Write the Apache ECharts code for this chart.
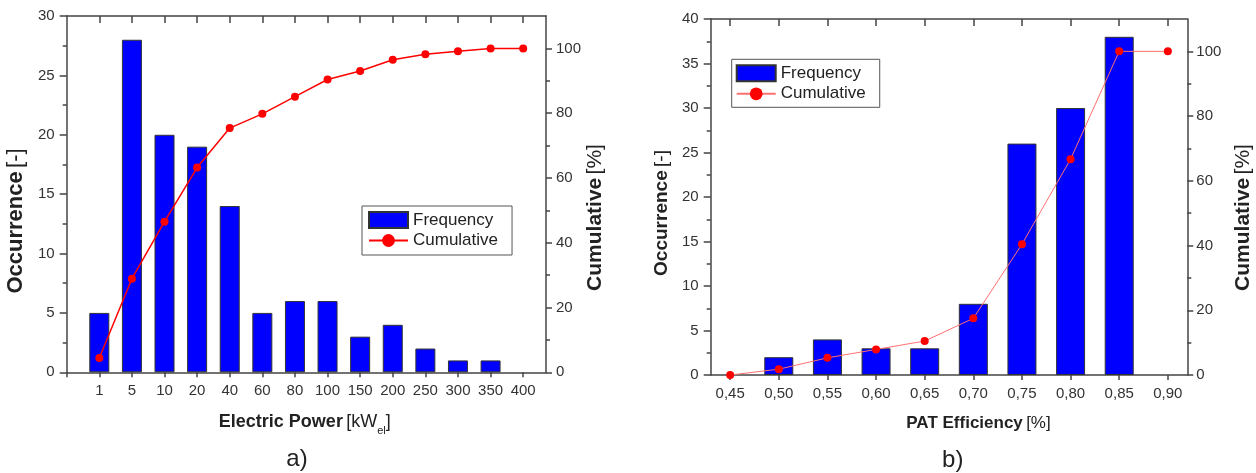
<!DOCTYPE html>
<html>
<head>
<meta charset="utf-8">
<script src="https://cdn.jsdelivr.net/npm/echarts@6/dist/echarts.min.js"></script>
<style>html,body{margin:0;padding:0;background:#fff}#c{width:1256px;height:473px}</style>
</head>
<body>
<div id="c"></div>
<script>
// ---- data (chart a) ----
const catA = ['1','5','10','20','40','60','80','100','150','200','250','300','350','400'];
const freqA = [5,28,20,19,14,5,6,6,3,4,2,1,1,0];
const cumA = [4.4,28.9,46.5,63.2,75.4,79.8,85.1,90.4,93.0,96.5,98.2,99.1,100,100];
// ---- data (chart b) ----
const catB = ['0,45','0,50','0,55','0,60','0,65','0,70','0,75','0,80','0,85','0,90'];
const freqB = [0,2,4,3,3,8,26,30,38,0];
const cumB = [0,1.8,5.3,7.9,10.5,17.5,40.4,66.7,100,100];
// ---- tick labels ----
const cumTicks = [0,20,40,60,80,100];
const cumMinor = [10,30,50,70,90];

const FONT = "'Liberation Sans', Arial, sans-serif";
const AX = '#444';
const TXT = '#333';
const lineSt = {color: AX, width: 1.5};

const idxA = catA.map((c,i)=>i+1);
const idxB = catB.map((c,i)=>i);

function xAxes(grid, min, max, idx, cats, tickVals) {
  return [
    {gridIndex: grid, type:'value', position:'bottom', min, max,
     axisLine:{show:true, onZero:false, lineStyle:lineSt},
     axisTick:{show:true, customValues: tickVals, length:5, lineStyle:lineSt},
     axisLabel:{customValues: idx, formatter: v => cats[idx.indexOf(v)], margin: 11, fontSize:15, color:TXT, fontFamily:FONT},
     splitLine:{show:false}},
    {gridIndex: grid, type:'value', position:'top', min, max,
     axisLine:{show:true, onZero:false, lineStyle:lineSt},
     axisTick:{show:true, inside:true, customValues: idx, length:7, lineStyle:lineSt},
     axisLabel:{show:false}, splitLine:{show:false}}
  ];
}
function yAxes(grid, leftMax, leftMargin, rightMargin) {
  return [
    {gridIndex:grid, type:'value', position:'left', min:0, max:leftMax, interval:5,
     axisLine:{show:true, onZero:false, lineStyle:lineSt},
     axisTick:{show:true, length:7, lineStyle:lineSt},
     minorTick:{show:true, splitNumber:2, length:4, lineStyle:lineSt},
     axisLabel:{margin:leftMargin, fontSize:15, color:TXT, fontFamily:FONT},
     splitLine:{show:false}, minorSplitLine:{show:false}},
    {gridIndex:grid, type:'value', position:'right', min:0, max:110,
     axisLine:{show:true, onZero:false, lineStyle:lineSt},
     axisTick:{show:true, length:6, customValues:cumTicks, lineStyle:lineSt},
     axisLabel:{customValues:cumTicks, margin:rightMargin, fontSize:15, color:TXT, fontFamily:FONT},
     splitLine:{show:false}},
    {gridIndex:grid, type:'value', position:'right', min:0, max:110,
     axisLine:{show:false, onZero:false},
     axisTick:{show:true, length:4, customValues:cumMinor, lineStyle:lineSt},
     axisLabel:{show:false}, splitLine:{show:false}}
  ];
}

const legendBase = {
  orient:'vertical', itemWidth:39, itemHeight:16, itemGap:3,
  borderColor:'#555', borderWidth:1, selectedMode:false,
  textStyle:{fontSize:17, color:'#222', fontFamily:FONT},
  formatter: n => n.trim()
};

function title(x, y, rot, bold, normal, size) {
  return {type:'text', x, y, rotation: rot, z:100,
    style:{text:'{b|'+bold+'} {n|'+normal+'}', align:'center', verticalAlign:'middle',
      rich:{b:{fontSize:size, fontWeight:'bold', fontFamily:FONT, fill:'#222'},
            n:{fontSize:size, fontFamily:FONT, fill:'#222'}}}};
}

const option = {
  animation:false,
  backgroundColor:'#fff',
  grid:[{left:66.7, top:16, width:479.3, height:356.3},
        {left:710.7, top:19, width:476.6, height:356}],
  xAxis:[...xAxes(0, 0, 14.7, idxA, catA, [0,1,2,3,4,5,6,7,8,9,10,11,12,13,14]),
         ...xAxes(1, -0.4, 9.4, idxB, catB, idxB)],
  yAxis:[...yAxes(0, 30, 12, 10), ...yAxes(1, 40, 12, 9)],
  legend:[
    Object.assign({}, legendBase, {left:362, top:206, padding:[5,14,6,6],
      data:[{name:'Frequency', icon:'rect'}, 'Cumulative']}),
    Object.assign({}, legendBase, {left:731.7, top:59.3, padding:[5,14,5,4],
      data:[{name:'Frequency ', icon:'rect'}, 'Cumulative ']})
  ],
  series:[
    {name:'Frequency', type:'bar', xAxisIndex:0, yAxisIndex:0, barWidth:20,
     data: idxA.map((x,i)=>[x, freqA[i] || null]),
     itemStyle:{color:'#0000ff', borderColor:'#333', borderWidth:1}},
    {name:'Cumulative', type:'line', xAxisIndex:0, yAxisIndex:1,
     data: idxA.map((x,i)=>[x, cumA[i]]), symbol:'circle', symbolSize:8,
     lineStyle:{color:'#ff0000', width:1.5}, itemStyle:{color:'#ff0000'}, z:5},
    {name:'Frequency ', type:'bar', xAxisIndex:2, yAxisIndex:3, barWidth:29,
     data: idxB.map((x,i)=>[x, freqB[i] || null]),
     itemStyle:{color:'#0000ff', borderColor:'#333', borderWidth:1}},
    {name:'Cumulative ', type:'line', xAxisIndex:2, yAxisIndex:4,
     data: idxB.map((x,i)=>[x, cumB[i]]), symbol:'circle', symbolSize:8,
     lineStyle:{color:'#ff7070', width:1}, itemStyle:{color:'#ff0000'}, z:5}
  ],
  graphic:[
    title(16, 221, Math.PI/2, 'Occurrence', '[-]', 22),
    title(595, 217.5, Math.PI/2, 'Cumulative', '[%]', 21),
    title(662, 213, Math.PI/2, 'Occurrence', '[-]', 19),
    title(1243, 217.5, Math.PI/2, 'Cumulative', '[%]', 21),
    {type:'text', x:304.8, y:421.7, z:100,
     style:{text:'{b|Electric Power} {n|[kW}{s|el}{n|]}', align:'center', verticalAlign:'middle',
       rich:{b:{fontSize:18, fontWeight:'bold', fontFamily:FONT, fill:'#222'},
             n:{fontSize:18, fontFamily:FONT, fill:'#222'},
             s:{fontSize:11, fontFamily:FONT, fill:'#222', padding:[18,0,0,0]}}}},
    title(978.5, 423.3, 0, 'PAT Efficiency', '[%]', 17),
    {type:'text', x:297, y:459, z:100, style:{text:'a)', fontSize:24, fontFamily:FONT, fill:'#222', align:'center', verticalAlign:'middle'}},
    {type:'text', x:952.7, y:460, z:100, style:{text:'b)', fontSize:24, fontFamily:FONT, fill:'#222', align:'center', verticalAlign:'middle'}}
  ]
};
const chart = echarts.init(document.getElementById('c'), null, {renderer:'canvas'});
chart.setOption(option);
</script>
</body>
</html>
